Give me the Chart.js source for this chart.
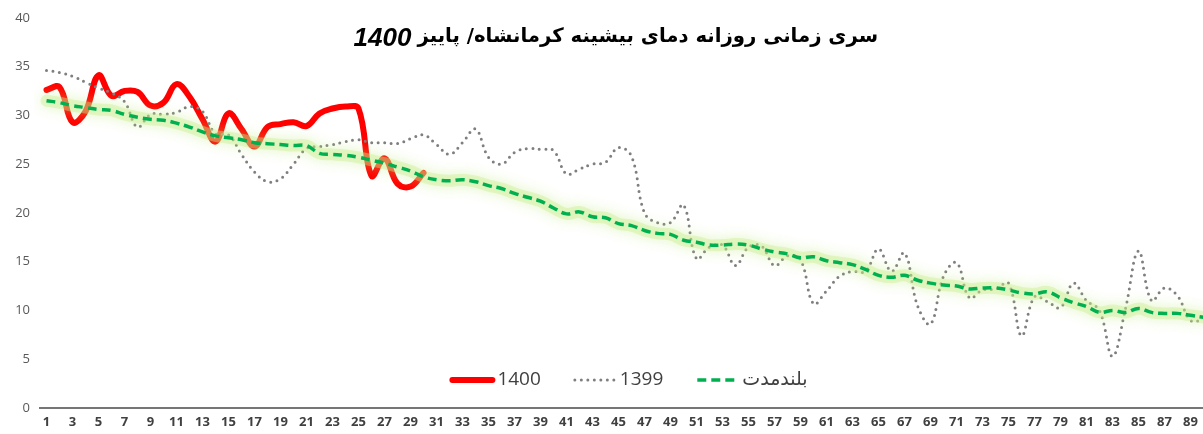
<!DOCTYPE html>
<html>
<head>
<meta charset="utf-8">
<script src="https://cdn.jsdelivr.net/npm/chart.js@4.4.1/dist/chart.umd.min.js"></script>
<style>
    html, body { margin: 0; padding: 0; background: #fff; overflow: hidden; }
    #wrap { width: 1203px; height: 434px; overflow: hidden; }
</style>
</head>
<body>
<div id="wrap"><canvas id="tempChart" width="1212" height="434"></canvas></div>
<script>
// day numbers of autumn (x categories)
const days = Array.from({ length: 90 }, (_, i) => String(i + 1));
const yTicks = [0, 5, 10, 15, 20, 25, 30, 35, 40];

const titleFa = 'سری زمانی روزانه دمای بیشینه کرمانشاه/ پاییز';
const titleYear = '1400';
const seriesNames = ['1400', '1399', 'بلندمدت'];

// daily max temperature, autumn 1400 (first 30 days only)
const t1400 = [32.6, 32.9, 29.3, 30.4, 34.1, 32.0, 32.5, 32.4, 31.0, 31.3,
    33.2, 31.9, 29.6, 27.3, 30.2, 28.6, 26.8, 28.8, 29.1, 29.3,
    28.9, 30.2, 30.7, 30.9, 30.7, 23.8, 25.6, 23.0, 22.7, 24.1];

// autumn 1399
const t1399 = [34.6, 34.4, 34.0, 33.4, 32.8, 32.3, 31.4, 28.8, 30.1, 30.1,
    30.3, 30.9, 30.4, 28.1, 28.0, 26.0, 24.2, 23.2, 23.5, 25.0,
    26.6, 26.8, 27.0, 27.3, 27.5, 27.2, 27.2, 27.1, 27.6, 28.0,
    27.0, 26.0, 27.2, 28.6, 25.7, 25.0, 26.2, 26.6, 26.5, 26.4,
    24.0, 24.5, 25.0, 25.2, 26.7, 25.8, 20.0, 19.0, 19.0, 20.8,
    15.3, 16.5, 16.7, 14.6, 16.5, 16.6, 14.6, 15.6, 15.2, 10.7,
    12.0, 13.5, 14.0, 14.0, 16.3, 14.0, 15.9, 10.5, 8.6, 13.5,
    14.9, 11.3, 12.1, 12.2, 12.8, 7.4, 11.4, 10.9, 10.3, 12.8,
    11.0, 10.0, 5.3, 10.2, 16.1, 11.0, 12.3, 11.5, 9.0, 9.0];

// long-term average
const longTerm = [31.5, 31.3, 31.0, 30.8, 30.6, 30.5, 30.1, 29.8, 29.6, 29.5,
    29.2, 28.8, 28.3, 27.9, 27.7, 27.5, 27.2, 27.1, 27.0, 26.9,
    26.9, 26.1, 26.0, 25.9, 25.7, 25.4, 25.1, 24.7, 24.3, 23.7,
    23.4, 23.3, 23.4, 23.2, 22.8, 22.5, 22.0, 21.6, 21.2, 20.5,
    19.9, 20.1, 19.6, 19.5, 18.9, 18.7, 18.2, 17.9, 17.8, 17.2,
    17.0, 16.7, 16.7, 16.8, 16.7, 16.3, 16.0, 15.8, 15.4, 15.5,
    15.1, 14.9, 14.7, 14.2, 13.6, 13.4, 13.6, 13.1, 12.8, 12.6,
    12.5, 12.2, 12.3, 12.3, 12.1, 11.8, 11.7, 11.9, 11.3, 10.8,
    10.4, 9.8, 10.0, 9.8, 10.2, 9.8, 9.7, 9.7, 9.5, 9.3];

const RED = '#ff0000';
const GRAY = '#7f7f7f';
const GREEN = '#00b050';
const GLOW = 'rgba(200,238,140,0.4)';

// soft glow under the long-term line
const glowPlugin = {
    id: 'glow',
    beforeDatasetDraw(chart, args) {
        if (args.index === 2) {
            const c = chart.ctx;
            c.save();
            c.shadowColor = 'rgba(185,232,110,1)';
            c.shadowBlur = 14;
        }
    },
    afterDatasetDraw(chart, args) {
        if (args.index === 2) chart.ctx.restore();
    }
};

// title and legend drawn over the plot area, like the Excel original
const overlayPlugin = {
    id: 'overlay',
    afterDraw(chart) {
        const c = chart.ctx;
        c.save();

        // title
        c.fillStyle = '#000';
        c.textBaseline = 'middle';
        let size = 22;
        c.font = 'bold ' + size + 'px "DejaVu Sans", sans-serif';
        let w = c.measureText(titleFa).width;
        size = size * 462 / w;
        c.font = 'bold ' + size.toFixed(1) + 'px "DejaVu Sans", sans-serif';
        c.textAlign = 'right';
        c.fillText(titleFa, 878, 37);
        w = c.measureText(titleFa).width;
        c.font = 'italic bold 26px "Liberation Sans", Arial, sans-serif';
        c.fillText(titleYear, 878 - w - 6, 39);

        // legend
        const styles = [
            { color: RED, width: 6, dash: [], cap: 'round' },
            { color: GRAY, width: 3, dash: [0, 6.5], cap: 'round' },
            { color: GREEN, width: 3.5, dash: [9, 5], cap: 'butt' }
        ];
        c.font = '19px "Open Sans", "DejaVu Sans", sans-serif';
        const sampleW = 40, gap = 5, itemGap = 34;
        const widths = seriesNames.map(n => c.measureText(n).width);
        let total = 0;
        widths.forEach(tw => { total += sampleW + gap + tw; });
        total += itemGap * (seriesNames.length - 1);
        let x = 630 - total / 2;
        const y = 380;
        seriesNames.forEach((name, i) => {
            const s = styles[i];
            c.beginPath();
            c.strokeStyle = s.color;
            c.lineWidth = s.width;
            c.lineCap = s.cap;
            c.setLineDash(s.dash);
            c.moveTo(x, y);
            c.lineTo(x + sampleW, y);
            c.stroke();
            c.setLineDash([]);
            c.fillStyle = '#404040';
            c.textAlign = 'left';
            c.fillText(name, x + sampleW + gap, y);
            x += sampleW + gap + widths[i] + itemGap;
        });
        c.restore();
    }
};

document.addEventListener('DOMContentLoaded', function() {
    const ctx = document.getElementById('tempChart');
    new Chart(ctx, {
        type: 'line',
        data: {
            labels: days,
            datasets: [
                {
                    label: seriesNames[0],
                    data: t1400,
                    borderColor: RED,
                    borderWidth: 6,
                    borderCapStyle: 'round',
                    borderJoinStyle: 'round',
                    tension: 0.4,
                    pointRadius: 0,
                    order: 4
                },
                {
                    label: seriesNames[1],
                    data: t1399,
                    borderColor: GRAY,
                    borderWidth: 3,
                    borderDash: [0, 6.5],
                    borderCapStyle: 'round',
                    tension: 0.4,
                    pointRadius: 0,
                    order: 3
                },
                {
                    label: 'glow',
                    data: longTerm,
                    borderColor: GLOW,
                    borderWidth: 12,
                    borderCapStyle: 'round',
                    borderJoinStyle: 'round',
                    tension: 0.4,
                    pointRadius: 0,
                    order: 2
                },
                {
                    label: seriesNames[2],
                    data: longTerm,
                    borderColor: GREEN,
                    borderWidth: 3.5,
                    borderDash: [9, 5],
                    tension: 0.4,
                    pointRadius: 0,
                    order: 1
                }
            ]
        },
        options: {
            responsive: false,
            animation: false,
            layout: { padding: { top: 16, right: 2, left: 0, bottom: 0 } },
            plugins: {
                legend: { display: false },
                title: { display: false },
                tooltip: { enabled: false }
            },
            scales: {
                x: {
                    offset: true,
                    grid: { display: false, drawTicks: false },
                    border: { display: true, color: '#767676', width: 2 },
                    afterFit: function(scale) { scale.height = 26; },
                    ticks: {
                        autoSkip: false,
                        maxRotation: 0,
                        padding: 6,
                        color: '#404040',
                        font: { family: '"Open Sans", sans-serif', size: 13, weight: 'bold' },
                        callback: function(val, i) { return i % 2 === 0 ? days[i] : ''; }
                    }
                },
                y: {
                    min: yTicks[0],
                    max: yTicks[yTicks.length - 1],
                    grid: { display: false, drawTicks: false },
                    border: { display: false },
                    afterFit: function(scale) { scale.width = 40; },
                    afterBuildTicks: function(scale) {
                        scale.ticks = yTicks.map(v => ({ value: v }));
                    },
                    ticks: {
                        padding: 10,
                        color: '#595959',
                        font: { family: '"Open Sans", sans-serif', size: 13 }
                    }
                }
            }
        },
        plugins: [glowPlugin, overlayPlugin]
    });
});
</script>
</body>
</html>
